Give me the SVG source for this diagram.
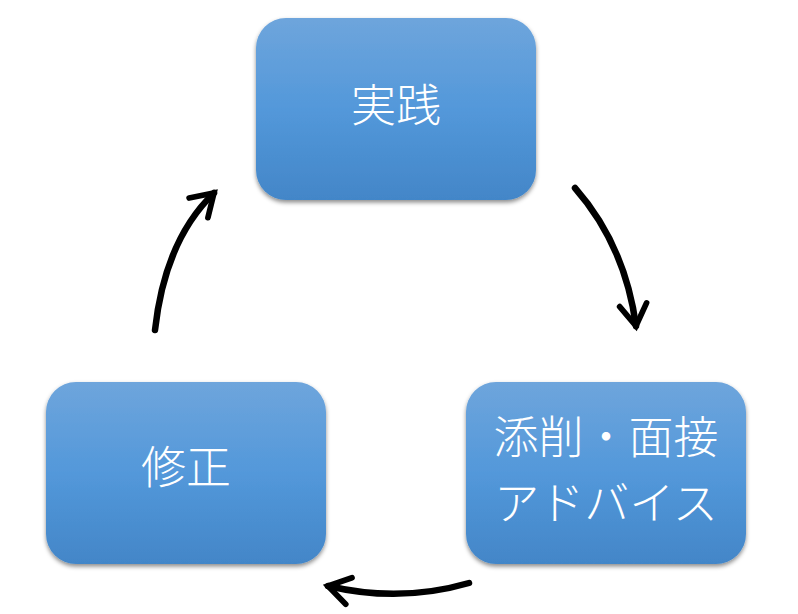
<svg xmlns="http://www.w3.org/2000/svg" width="798" height="614" viewBox="0 0 798 614">
<defs>
<linearGradient id="g" x1="0" y1="0" x2="0" y2="1">
<stop offset="0" stop-color="#6ea5dc"/>
<stop offset="0.5" stop-color="#5398da"/>
<stop offset="1" stop-color="#4386c8"/>
</linearGradient>
<filter id="sh" x="-10%" y="-10%" width="120%" height="130%">
<feDropShadow dx="0" dy="2.5" stdDeviation="2" flood-color="#000" flood-opacity="0.45"/>
</filter>
<marker id="ah" viewBox="0 0 10 10" refX="8" refY="5" markerWidth="5.5" markerHeight="5.5" orient="auto" markerUnits="strokeWidth">
<polyline points="2,1.2 8,5 2,8.8" fill="none" stroke="#000" stroke-width="1.6" stroke-linecap="round" stroke-linejoin="miter"/>
</marker>
<style>
.box{fill:url(#g);filter:url(#sh)}
.t{fill:#fff;font-family:"Noto Sans CJK JP","Noto Sans CJK SC",sans-serif;font-size:45px;font-weight:300;text-anchor:middle}
.c{fill:none;stroke:#000;stroke-width:6.5;stroke-linecap:round}
</style>
</defs>
<rect width="798" height="614" fill="#fff"/>
<g id="node-jissen">
<rect class="box" x="256" y="18" width="280" height="182" rx="30"/>
<text class="t" x="396" y="122">実践</text>
</g>
<g id="node-tensaku">
<rect class="box" x="466" y="382" width="280" height="182" rx="30"/>
<text class="t" x="606" y="454">添削・面接</text>
<text class="t" x="606" y="520">アドバイス</text>
</g>
<g id="node-shusei">
<rect class="box" x="46" y="382" width="280" height="182" rx="30"/>
<text class="t" x="186" y="484">修正</text>
</g>
<g id="connectors">
<path class="c" d="M575,188 Q625,245 636,326" marker-end="url(#ah)"/>
<path class="c" d="M469,583 Q400,603 328,586" marker-end="url(#ah)"/>
<path class="c" d="M155,330 Q165,240 214,193" marker-end="url(#ah)"/>
</g>
</svg>
